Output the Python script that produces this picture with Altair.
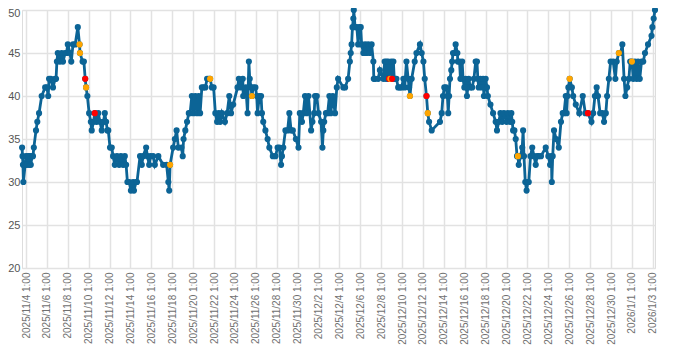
import altair as alt
import pandas as pd

# Hours after 2025/11/4 1:00, temperature value, and point flag (b=normal, o=orange, r=red)
hours = [-9, -8, -7, -6, -2, 0, 2, 5, 7, 9, 11, 14, 16, 18, 23, 26, 30, 36, 44, 48,
         51, 53, 57, 62, 67, 69, 71, 73, 78, 82, 85, 90, 93, 96, 101, 104, 108, 113, 119, 123,
         124, 130, 133, 136, 138, 141, 145, 149, 151, 155, 158, 162, 166, 170, 174, 178, 181, 184, 187, 189,
         193, 197, 200, 204, 209, 214, 218, 223, 227, 230, 233, 237, 241, 246, 248, 253, 255, 262, 266, 269,
         276, 279, 283, 286, 292, 296, 304, 315, 323, 327, 329, 331, 338, 342, 346, 350, 357, 360, 362, 366,
         370, 374, 377, 381, 385, 389, 393, 397, 400, 404, 408, 412, 416, 420, 423, 427, 431, 435, 439, 443,
         446, 450, 457, 462, 467, 471, 476, 486, 489, 494, 498, 499, 505, 509, 512, 514, 517, 519, 522, 527,
         530, 532, 536, 540, 542, 545, 550, 555, 559, 567, 573, 578, 582, 586, 588, 591, 596, 601, 605, 609,
         613, 620, 626, 629, 634, 637, 641, 645, 649, 655, 658, 662, 664, 668, 672, 678, 681, 683, 685, 689,
         693, 697, 700, 705, 710, 714, 717, 729, 733, 740, 744, 746, 748, 750, 752, 753, 756, 760, 763, 766,
         769, 771, 775, 779, 782, 786, 790, 794, 798, 799, 802, 809, 813, 821, 824, 827, 828, 831, 832, 834,
         837, 839, 841, 844, 846, 848, 851, 855, 859, 863, 867, 870, 874, 878, 880, 882, 886, 893, 897, 905,
         909, 913, 916, 920, 923, 926, 932, 951, 955, 958, 961, 965, 968, 970, 972, 974, 977, 979, 981, 985,
         987, 991, 992, 996, 998, 1002, 1004, 1007, 1010, 1012, 1013, 1017, 1021, 1025, 1029, 1033, 1036, 1038, 1040, 1044,
         1047, 1050, 1052, 1056, 1059, 1061, 1067, 1073, 1079, 1082, 1086, 1090, 1094, 1098, 1104, 1107, 1112, 1115, 1117, 1119,
         1122, 1125, 1128, 1130, 1132, 1136, 1140, 1142, 1144, 1147, 1150, 1153, 1155, 1159, 1163, 1167, 1171, 1174, 1178, 1183,
         1194, 1200, 1204, 1207, 1208, 1210, 1213, 1218, 1224, 1229, 1233, 1236, 1240, 1242, 1244, 1246, 1249, 1254, 1257, 1263,
         1271, 1279, 1285, 1291, 1299, 1303, 1307, 1311, 1314, 1319, 1324, 1328, 1332, 1335, 1339, 1343, 1349, 1354, 1357, 1362,
         1366, 1370, 1374, 1377, 1381, 1385, 1388, 1392, 1395, 1399, 1403, 1406, 1410, 1414, 1418, 1422, 1429, 1437, 1439, 1442,
         1445]

temps = [34, 33, 32, 30, 32, 33, 32, 33, 32, 33, 32, 33, 33, 34, 36, 37, 38, 40, 41, 41,
         40, 42, 42, 41, 42, 42, 44, 45, 44, 45, 44, 45, 45, 46, 45, 44, 46, 46, 48, 46,
         45, 44, 44, 42, 41, 40, 38, 37, 36, 37, 38, 37, 38, 37, 36, 37, 38, 37, 36, 36,
         34, 34, 33, 32, 33, 32, 33, 32, 33, 32, 30, 30, 29, 30, 29, 30, 30, 33, 32, 33,
         34, 33, 32, 33, 33, 32, 33, 32, 32, 30, 29, 32, 34, 35, 36, 34, 34, 33, 35, 36,
         37, 38, 38, 40, 38, 40, 38, 40, 38, 41, 41, 41, 42, 42, 42, 41, 41, 38, 37, 38,
         37, 38, 37, 38, 40, 38, 39, 41, 42, 41, 42, 40, 41, 38, 44, 42, 41, 40, 41, 41,
         40, 38, 40, 40, 38, 37, 36, 35, 34, 33, 33, 34, 34, 32, 33, 34, 36, 36, 38, 36,
         36, 35, 34, 38, 37, 38, 40, 38, 40, 36, 37, 38, 40, 40, 38, 37, 34, 36, 37, 38,
         38, 40, 38, 40, 38, 41, 42, 41, 41, 42, 44, 45, 46, 48, 49, 50, 48, 48, 46, 48,
         48, 46, 45, 46, 45, 46, 45, 46, 44, 42, 42, 42, 43, 42, 44, 42, 44, 42, 44, 42,
         42, 44, 42, 44, 42, 42, 42, 41, 41, 41, 42, 41, 44, 42, 41, 40, 42, 44, 45, 46,
         45, 44, 42, 40, 38, 37, 36, 37, 38, 40, 41, 41, 40, 38, 40, 42, 43, 44, 45, 45,
         46, 45, 44, 44, 42, 44, 42, 41, 42, 41, 40, 42, 41, 41, 42, 44, 44, 42, 41, 42,
         41, 42, 40, 42, 41, 40, 39, 38, 37, 36, 37, 38, 37, 38, 37, 38, 37, 38, 37, 36,
         36, 35, 33, 33, 32, 33, 34, 36, 33, 30, 29, 30, 30, 33, 34, 33, 32, 33, 33, 33,
         34, 33, 32, 33, 30, 33, 36, 35, 34, 37, 38, 38, 40, 38, 40, 41, 42, 41, 40, 39,
         38, 40, 38, 38, 37, 38, 40, 41, 40, 38, 38, 37, 38, 40, 42, 44, 44, 42, 44, 45,
         45, 46, 42, 40, 41, 42, 44, 44, 42, 44, 42, 44, 42, 44, 44, 45, 46, 47, 48, 49,
         50]

orange_idx = [39, 40, 44, 91, 114, 137, 220, 235, 244, 303, 336, 359, 367]
red_idx = [43, 50, 219, 222, 243, 343]

flags = ["b"] * len(hours)
for i in orange_idx:
    flags[i] = "o"
for i in red_idx:
    flags[i] = "r"

base = pd.Timestamp("2025-11-04 01:00")
df = pd.DataFrame({
    "idx": list(range(len(hours))),
    "time": [(base + pd.Timedelta(hours=h)).strftime("%Y-%m-%dT%H:%M:%S") for h in hours],
    "temp": temps,
    "flag": flags,
})

tick_days = pd.date_range("2025-11-04 01:00", "2026-01-03 01:00", freq="2D")
tick_vals = [alt.DateTime(year=int(t.year), month=int(t.month), date=int(t.day), hours=1) for t in tick_days]

BLUE = "#0c6496"

x_enc = alt.X(
    "time:T",
    scale=alt.Scale(domain=[alt.DateTime(year=2025, month=11, date=3, hours=15, minutes=48),
                            alt.DateTime(year=2026, month=1, date=3, hours=6)]),
    axis=alt.Axis(values=tick_vals, format="%Y/%-m/%-d %-H:%M", labelAngle=-90,
                  labelFontSize=10, labelColor="#707070", labelFont="Liberation Sans",
                  grid=True, gridColor="#e2e2e2", gridWidth=1.5, domain=False, ticks=False,
                  labelPadding=4, labelOverlap=False, title=None),
)
y_enc = alt.Y(
    "temp:Q",
    scale=alt.Scale(domain=[20, 50], nice=False, zero=False),
    axis=alt.Axis(values=[20, 25, 30, 35, 40, 45, 50], labelFontSize=11, labelColor="#555555",
                  labelFont="Liberation Sans", grid=True, gridColor="#e2e2e2", gridWidth=1.5,
                  domain=False, ticks=False, labelPadding=2,
                  labelOffset={"condition": {"test": "datum.value >= 50", "value": 3}, "value": 0},
                  title=None),
)

base_chart = alt.Chart(df)

line = base_chart.mark_line(color=BLUE, strokeWidth=2.8).encode(
    x=x_enc, y=y_enc, order="idx:Q"
)
pts = base_chart.mark_circle(color=BLUE, size=38, opacity=1).encode(x=x_enc, y=y_enc)
hi = base_chart.transform_filter("datum.flag != 'b'").mark_circle(size=38, opacity=1).encode(
    x=x_enc, y=y_enc,
    color=alt.Color("flag:N", scale=alt.Scale(domain=["o", "r"], range=["#ffa500", "#ff0000"]), legend=None),
)

chart = alt.layer(line, pts, hi).properties(
    width=633, height=258,
    autosize=alt.AutoSizeParams(type="none"),
    padding={"left": 14, "top": 2, "right": 20, "bottom": 77},
).configure_view(strokeWidth=0).configure(background="white")

chart.save("out.html", embed_options={"renderer": "svg", "actions": False})
